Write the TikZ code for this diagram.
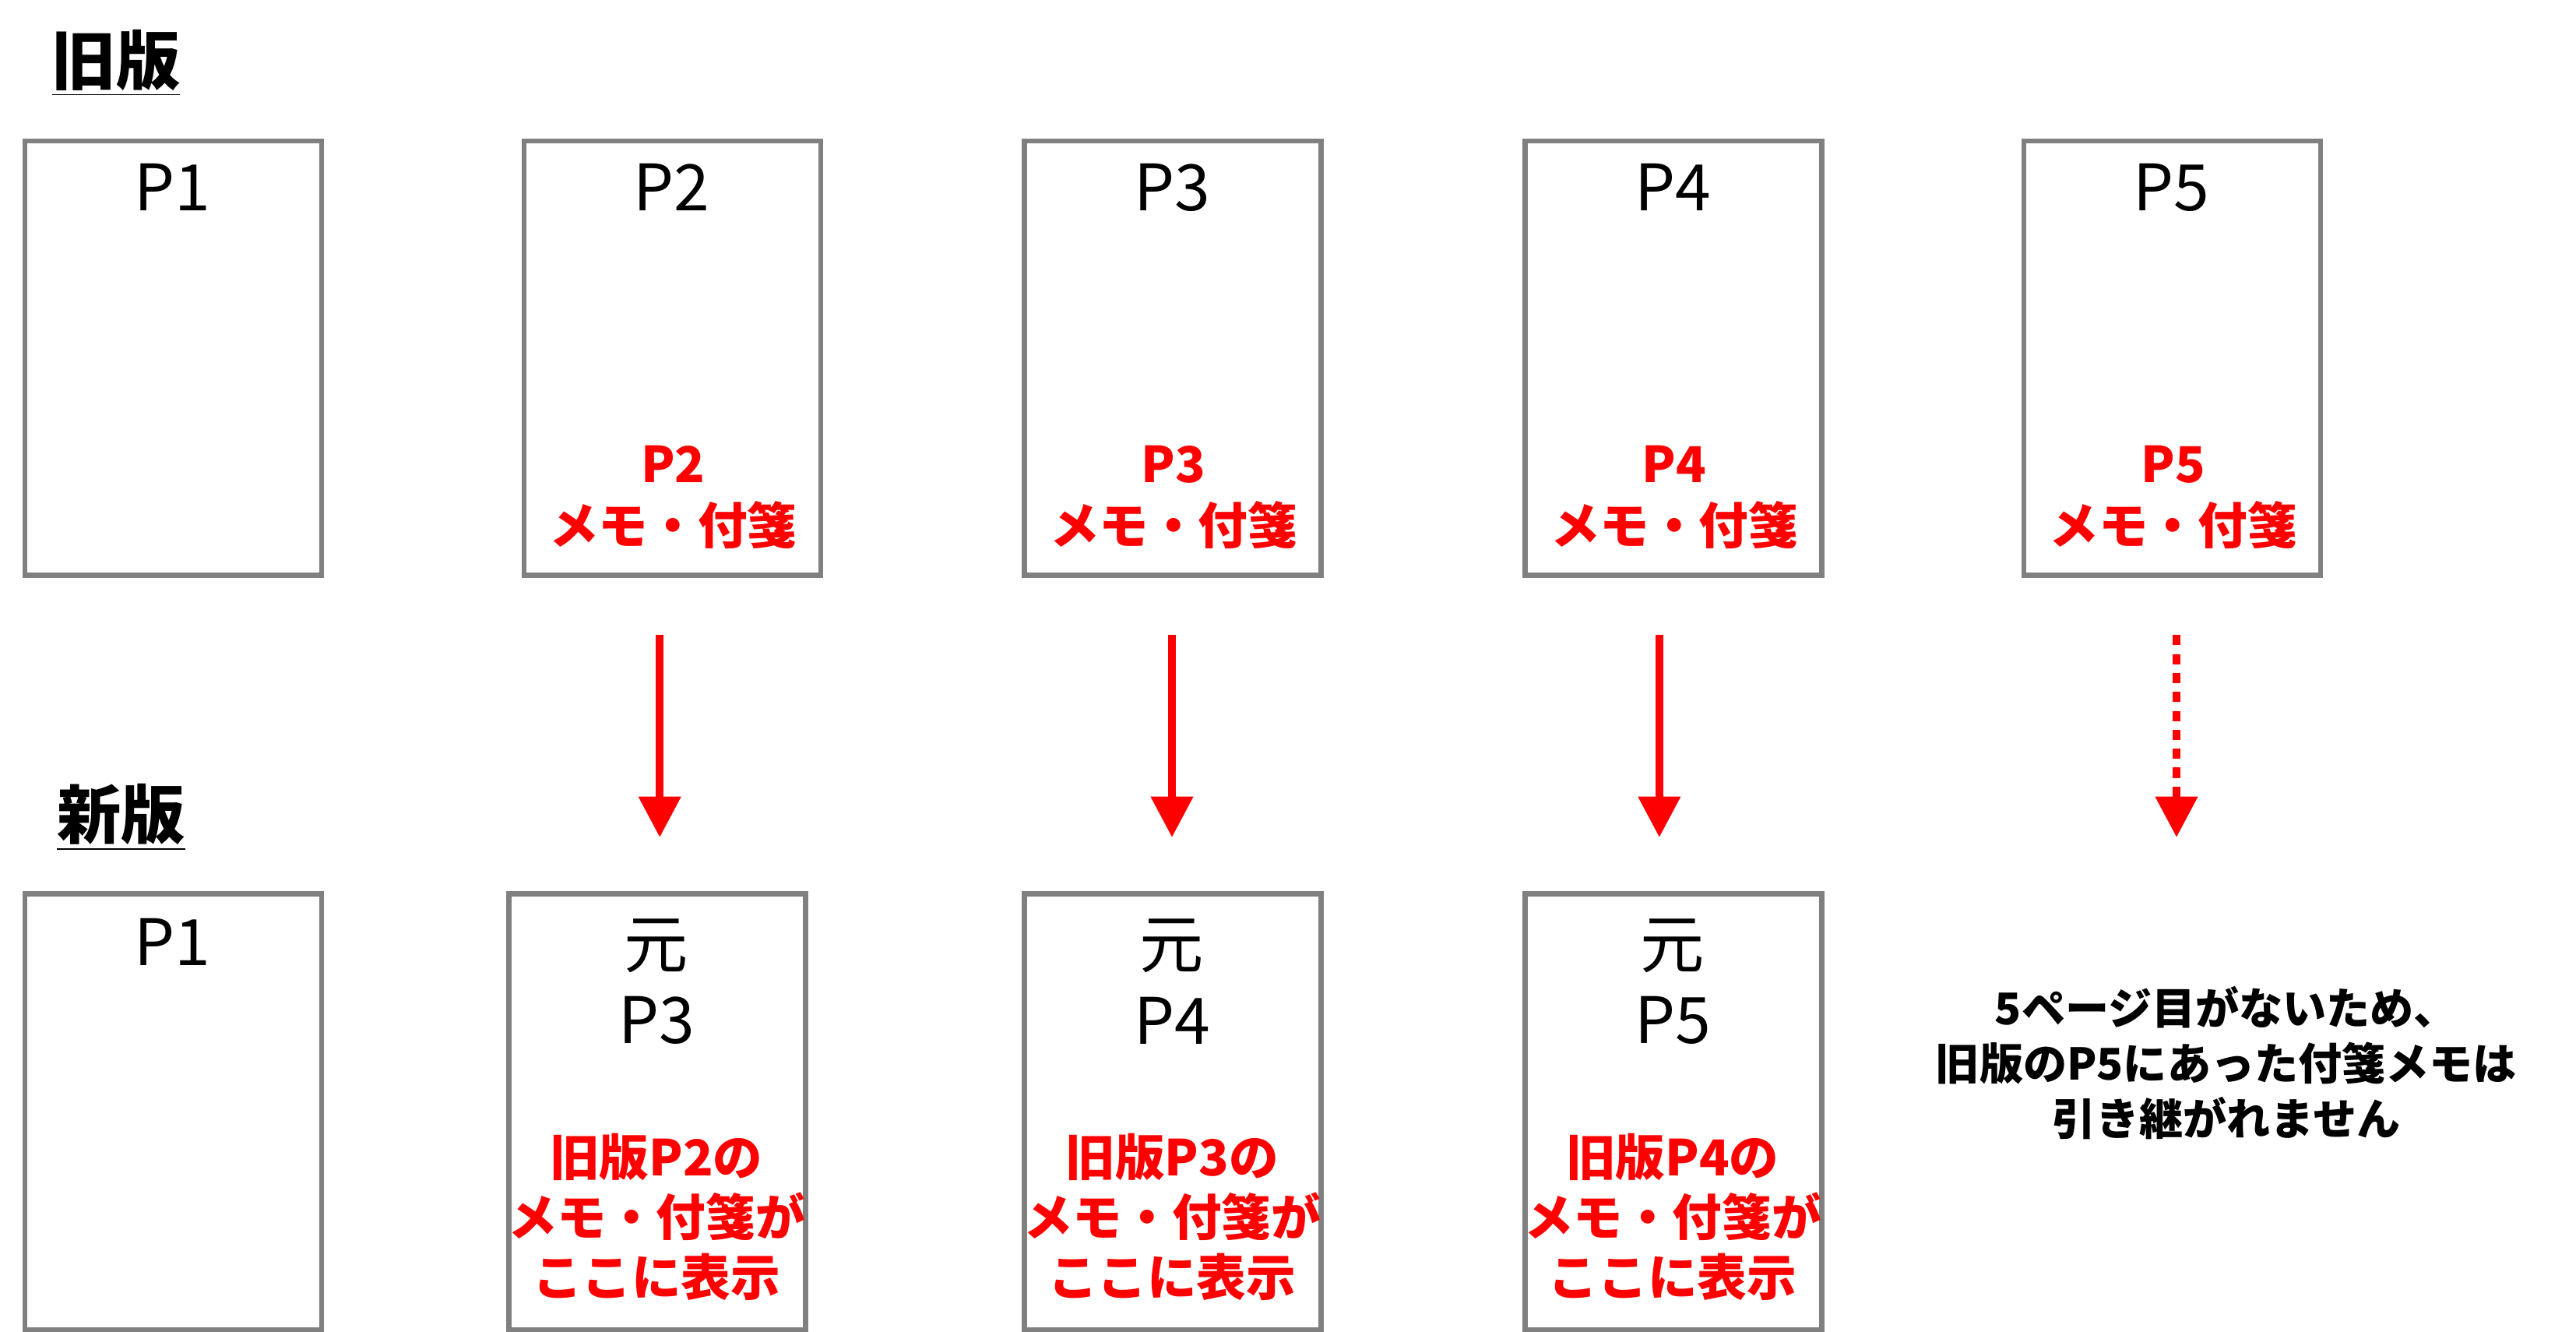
\documentclass[tikz,border=0pt]{standalone}
\usepackage{fontspec}
\setmainfont{Noto Sans CJK JP}
\newfontfamily\jpb{Noto Sans CJK JP Bold}
\usetikzlibrary{arrows.meta}
\definecolor{bgray}{HTML}{808080}
\definecolor{rred}{HTML}{FF0000}
\begin{document}
\begin{tikzpicture}[x=0.02cm,y=-0.02cm,
  page/.style={draw=bgray,line width=1.7pt},
  plab/.style={font=\fontsize{22}{26}\selectfont},
  redt/.style={text=rred,font=\bfseries\fontsize{17}{21}\selectfont,align=center},
  head/.style={font=\bfseries\fontsize{22}{26}\selectfont},
  arr/.style={draw=rred,line width=2.6pt,-{Triangle[length=14pt,width=14pt]}},
  darr/.style={arr,dash pattern=on 3.5pt off 3pt}]
\useasboundingbox (0,0) rectangle (1554,803);
\node[head] (h1) at (70,38) {\underline{旧版}};
\node[head] (h2) at (73,493) {\underline{新版}};
% old
\foreach \i/\x in {1/15,2/316,3/618,4/920,5/1221}{
  \draw[page] (\x,85) rectangle ++(179,262);
  \node[plab] (o\i) at (\x+89,113) {P\i};
}
\foreach \i/\x in {2/316,3/618,4/920,5/1221}{
  \node[redt] (or\i) at (\x+90,300) {P\i\\メモ・付箋};
}
% new
\draw[page] (15,539) rectangle ++(179,263); \node[plab] (n1) at (104,568) {P1};
\foreach \i/\j/\x in {2/3/307,3/4/618,4/5/920}{
  \draw[page] (\x,539) rectangle ++(179,263);
  \node[plab,align=center] (n\i) at (\x+89,592) {元\\P\j};
  \node[redt,font=\bfseries\fontsize{17}{20.5}\selectfont] (nr\i) at (\x+89,734) {旧版P\i の\\メモ・付箋が\\ここに表示};
}
\coordinate (a2s) at (398,383); \coordinate (a2e) at (398,505);
\coordinate (a3s) at (707,383); \coordinate (a3e) at (707,505);
\coordinate (a4s) at (1001,383); \coordinate (a4e) at (1001,505);
\coordinate (a5s) at (1313,383); \coordinate (a5e) at (1313,505);
\draw[arr] (a2s) -- (a2e);
\draw[arr] (a3s) -- (a3e);
\draw[arr] (a4s) -- (a4e);
\draw[darr] (a5s) -- (a5e);
\node[align=center,font=\bfseries\fontsize{15}{19}\selectfont] (note) at (1343,641) {5ページ目がないため、\\旧版のP5にあった付箋メモは\\引き継がれません};
\end{tikzpicture}
\end{document}
